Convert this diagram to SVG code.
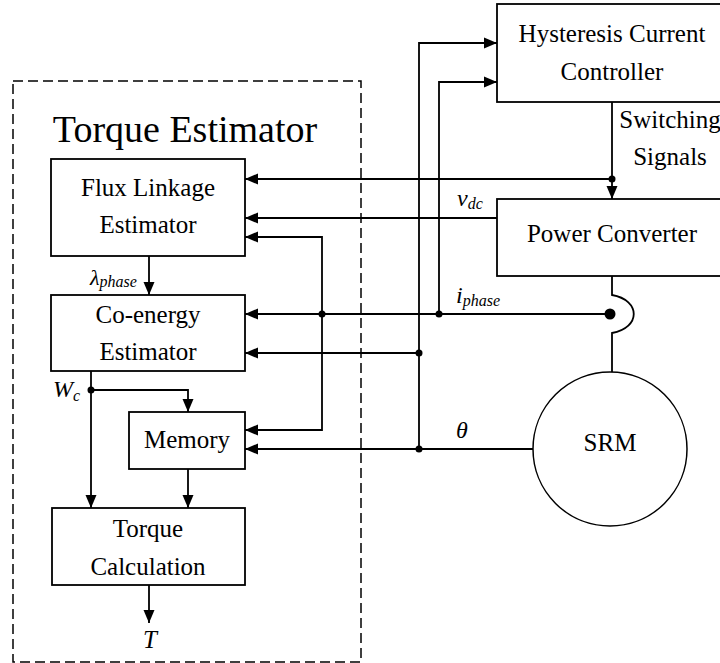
<svg xmlns="http://www.w3.org/2000/svg" width="720" height="663" viewBox="0 0 720 663">
  <style>
    .box { fill: #fff; stroke: #000; stroke-width: 1.8; }
    .wire { fill: none; stroke: #000; stroke-width: 1.8; }
    .arr { marker-end: url(#head); }
    .t { font-family: "Liberation Serif", "Times New Roman", serif; font-size: 25px; fill: #000; text-anchor: middle; }
    .v { font-family: "Liberation Serif", "Times New Roman", serif; font-style: italic; fill: #000; }
    .dot { fill: #000; }
  </style>
  <defs>
    <marker id="head" markerUnits="userSpaceOnUse" markerWidth="14" markerHeight="12" refX="13" refY="6" orient="auto">
      <path d="M0,0.5 L13,6 L0,11.5 Z" fill="#000"/>
    </marker>
  </defs>

  <rect width="720" height="663" fill="#fff"/>

  <!-- torque estimator boundary -->
  <g id="torque-estimator">
    <rect x="13" y="81" width="348" height="581" fill="none" stroke="#000" stroke-width="1.5" stroke-dasharray="10,5"/>
    <text x="185" y="142" class="t" style="font-size:38px">Torque Estimator</text>
  </g>

  <!-- connectors -->
  <g id="connectors">
    <!-- switching signals -->
    <path class="wire arr" d="M612,102 V199"/>
    <path class="wire arr" d="M612,179 H245"/>
    <!-- v_dc -->
    <path class="wire arr" d="M497,218 H245"/>
    <!-- position feedback into flux estimator and memory -->
    <path class="wire arr" d="M322,314 V237 H245"/>
    <path class="wire arr" d="M322,314 V430 H245"/>
    <!-- phase current -->
    <path class="wire arr" d="M610,314 H245"/>
    <path class="wire arr" d="M439,314 V82 H497"/>
    <!-- rotor position -->
    <path class="wire arr" d="M533,449 H245"/>
    <path class="wire arr" d="M419,449 V43 H497"/>
    <path class="wire arr" d="M419,353 H245"/>
    <!-- converter to motor with crossover -->
    <path class="wire" d="M612,276 V295 C641,300 641,328 612,333 V372"/>
    <!-- internal estimator flow -->
    <path class="wire arr" d="M149,256 V295"/>
    <path class="wire arr" d="M91,371 V508"/>
    <path class="wire arr" d="M91,390 H188 V412"/>
    <path class="wire arr" d="M188,469 V508"/>
    <path class="wire arr" d="M149,585 V623"/>
    <!-- junctions -->
    <circle class="dot" cx="612" cy="179" r="3.5"/>
    <circle class="dot" cx="322" cy="314" r="3.5"/>
    <circle class="dot" cx="439" cy="314" r="3.5"/>
    <circle class="dot" cx="610" cy="314" r="5.5"/>
    <circle class="dot" cx="419" cy="353" r="3.5"/>
    <circle class="dot" cx="419" cy="449" r="3.5"/>
    <circle class="dot" cx="91" cy="390" r="3.5"/>
  </g>

  <!-- signal labels -->
  <g id="labels">
    <text x="457" y="206" class="v" font-size="24">v<tspan font-size="16" dy="3">dc</tspan></text>
    <text x="456" y="303" class="v" font-size="24">i<tspan font-size="16" dy="3">phase</tspan></text>
    <text x="456" y="438" class="v" font-size="24">θ</text>
    <text x="90" y="285" class="v" font-size="22">λ<tspan font-size="16" dy="2">phase</tspan></text>
    <text x="53" y="397" class="v" font-size="24">W<tspan font-size="16" dy="4">c</tspan></text>
    <text x="150" y="648" class="v" font-size="25" text-anchor="middle">T</text>
  </g>

  <g id="hysteresis-controller">
    <rect class="box" x="497" y="4" width="232" height="98"/>
    <text x="612" y="42" class="t">Hysteresis Current</text>
    <text x="612" y="80" class="t">Controller</text>
  </g>

  <g id="switching-label">
    <text x="670" y="128" class="t">Switching</text>
    <text x="670" y="165" class="t">Signals</text>
  </g>

  <g id="power-converter">
    <rect class="box" x="497" y="199" width="232" height="77"/>
    <text x="612" y="242" class="t">Power Converter</text>
  </g>

  <g id="srm">
    <circle cx="610" cy="449" r="77" fill="#fff" stroke="#000" stroke-width="1.5"/>
    <text x="610" y="451" class="t">SRM</text>
  </g>

  <g id="flux-estimator">
    <rect class="box" x="51" y="159" width="194" height="97"/>
    <text x="148" y="196" class="t">Flux Linkage</text>
    <text x="148" y="233" class="t">Estimator</text>
  </g>

  <g id="coenergy-estimator">
    <rect class="box" x="51" y="295" width="194" height="76"/>
    <text x="148" y="323" class="t">Co-energy</text>
    <text x="148" y="360" class="t">Estimator</text>
  </g>

  <g id="memory">
    <rect class="box" x="129" y="412" width="116" height="57"/>
    <text x="187" y="448" class="t">Memory</text>
  </g>

  <g id="torque-calculation">
    <rect class="box" x="52" y="508" width="193" height="77"/>
    <text x="148" y="537" class="t">Torque</text>
    <text x="148" y="575" class="t">Calculation</text>
  </g>
</svg>
